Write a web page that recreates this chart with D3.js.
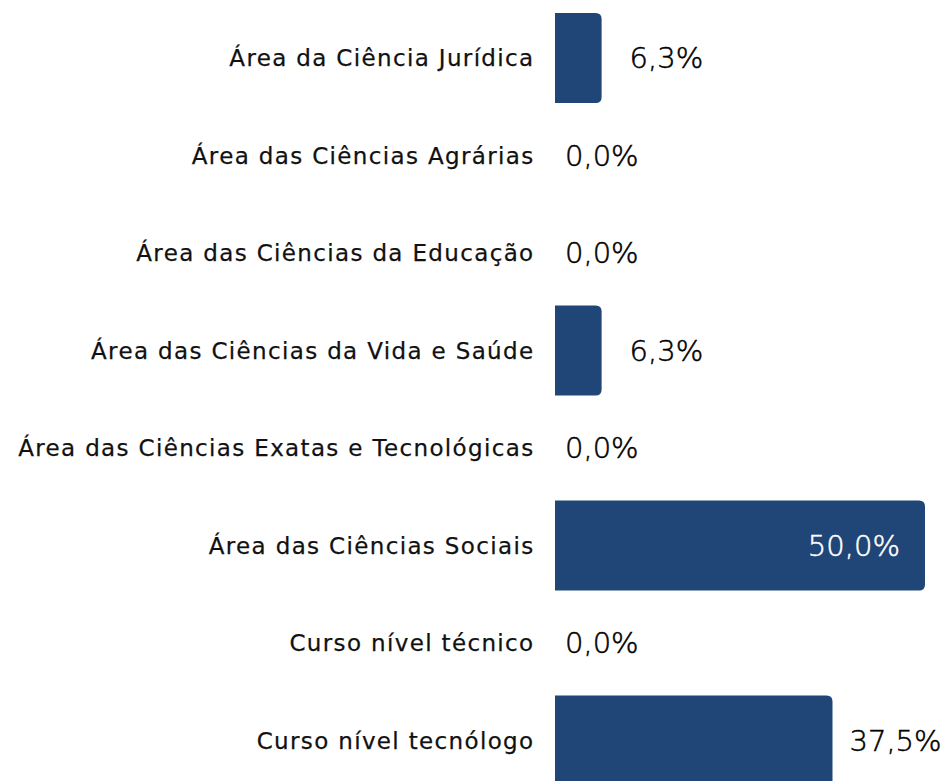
<!DOCTYPE html>
<html>
<head>
<meta charset="utf-8">
<script src="https://cdn.jsdelivr.net/npm/d3@7"></script>
<style>
  html, body { margin: 0; padding: 0; background: #fff; }
  svg { display: block; }
  .cat { font-family: "DejaVu Sans", sans-serif; font-weight: 400; font-size: 23px; letter-spacing: 1.35px; fill: #111; stroke: #111; stroke-width: 0.25px; }
  .val { font-family: "DejaVu Sans", sans-serif; font-weight: 200; font-size: 29px; stroke-width: 0.5px; }
</style>
</head>
<body>
<div class="canvas"></div>
<script>
var categories = [
    "Área da Ciência Jurídica",
    "Área das Ciências Agrárias",
    "Área das Ciências da Educação",
    "Área das Ciências da Vida e Saúde",
    "Área das Ciências Exatas e Tecnológicas",
    "Área das Ciências Sociais",
    "Curso nível técnico",
    "Curso nível tecnólogo"
];
var values = [6.3, 0.0, 0.0, 6.3, 0.0, 50.0, 0.0, 37.5];

var width = 948, height = 781;
var barColor = "#1f4677";

var svg = d3.select(".canvas")
    .append("svg")
    .attr("width", width)
    .attr("height", height);

var x = d3.scaleLinear().domain([0, 50]).range([555, 925]);
var y = d3.scaleBand()
    .domain(categories)
    .range([9.25, 789.25])
    .paddingInner(0.077)
    .paddingOuter(0.0385);

var data = categories.map(function(c, i){ return {cat: c, value: values[i]}; });

// bar with only the right corners rounded
var barPath = function(d){
    var x0 = x(0), x1 = x(d.value), y0 = y(d.cat), h = y.bandwidth();
    var r = Math.min(6, (x1 - x0) / 2);
    return "M" + x0 + "," + y0 +
        "H" + (x1 - r) +
        "Q" + x1 + "," + y0 + " " + x1 + "," + (y0 + r) +
        "V" + (y0 + h - r) +
        "Q" + x1 + "," + (y0 + h) + " " + (x1 - r) + "," + (y0 + h) +
        "H" + x0 + "Z";
};

svg.selectAll("path.bar")
    .data(data.filter(function(d){ return d.value > 0; }))
    .enter()
    .append("path")
    .attr("class", "bar")
    .attr("d", barPath)
    .attr("fill", barColor);

svg.selectAll("text.cat")
    .data(data)
    .enter()
    .append("text")
    .attr("class", "cat")
    .attr("x", 534.5)   // letter-spacing leaves a trailing gap
    .attr("y", function(d){ return y(d.cat) + y.bandwidth() / 2; })
    .attr("dy", "0.35em")
    .attr("text-anchor", "end")
    .text(function(d){ return d.cat; });

var fmt = function(v){ return v.toFixed(1).replace(".", ",") + "%"; };

svg.selectAll("text.val")
    .data(data)
    .enter()
    .append("text")
    .attr("class", "val")
    .attr("x", function(d){
        if (d.value === 0) return x(0) + 10;
        if (d.value >= 45) return x(d.value) - 25;
        return x(d.value) + (d.value < 20 ? 28 : 17);
    })
    .attr("y", function(d){ return y(d.cat) + y.bandwidth() / 2; })
    .attr("dy", "0.36em")
    .attr("text-anchor", function(d){ return d.value >= 45 ? "end" : "start"; })
    .attr("fill", function(d){ return d.value >= 45 ? "#fff" : "#000"; })
    .attr("stroke", function(d){ return d.value >= 45 ? "#fff" : "#000"; })
    .text(function(d){ return fmt(d.value); });
</script>
</body>
</html>
